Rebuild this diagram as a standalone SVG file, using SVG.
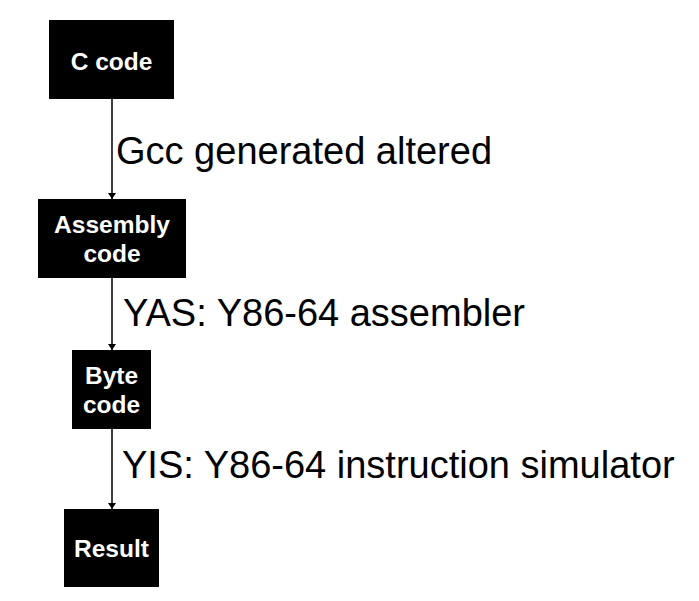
<svg xmlns="http://www.w3.org/2000/svg" width="699" height="601" viewBox="0 0 699 601">
<style>
.node{fill:#000}
.nt{font-family:"Liberation Sans",Arial,sans-serif;font-weight:bold;font-size:24.5px;fill:#fff;text-anchor:middle}
.lbl{font-family:"Liberation Sans",Arial,sans-serif;font-size:38px;fill:#000}
.edge{stroke:#000;stroke-width:1.5;fill:none;marker-end:url(#ah)}
</style>
<defs>
<marker id="ah" viewBox="0 0 6 8" refX="6" refY="4" markerWidth="6" markerHeight="8" markerUnits="userSpaceOnUse" orient="auto">
<path d="M0,0 L6,4 L0,8 z" fill="#000"/>
</marker>
</defs>
<rect width="699" height="601" fill="#fff"/>
<g id="connectors">
<line class="edge" x1="112" y1="99" x2="112" y2="199"/>
<line class="edge" x1="112" y1="278" x2="112" y2="350"/>
<line class="edge" x1="112" y1="429" x2="112" y2="509"/>
<text class="lbl" x="116" y="164">Gcc generated altered</text>
<text class="lbl" x="123" y="326">YAS: Y86-64 assembler</text>
<text class="lbl" x="122" y="478">YIS: Y86-64 instruction simulator</text>
</g>
<g id="c-code">
<rect class="node" x="49" y="20" width="125" height="79"/>
<text class="nt" x="111.5" y="70">C code</text>
</g>
<g id="assembly-code">
<rect class="node" x="38" y="199" width="148" height="79"/>
<text class="nt" x="112" y="233">Assembly</text>
<text class="nt" x="112" y="262">code</text>
</g>
<g id="byte-code">
<rect class="node" x="72" y="350" width="79" height="79"/>
<text class="nt" x="111.5" y="384">Byte</text>
<text class="nt" x="111.5" y="413">code</text>
</g>
<g id="result">
<rect class="node" x="64" y="509" width="95" height="78"/>
<text class="nt" x="111.5" y="557">Result</text>
</g>
</svg>
